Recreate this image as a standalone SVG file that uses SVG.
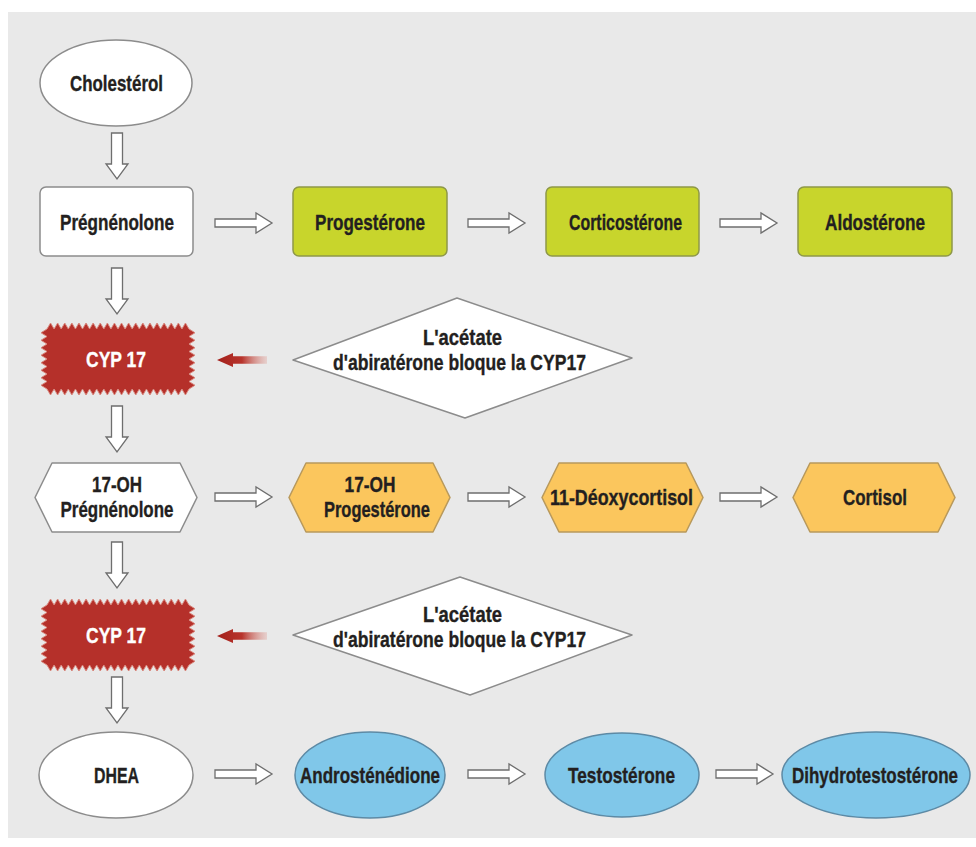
<svg xmlns="http://www.w3.org/2000/svg" width="976" height="847" viewBox="0 0 976 847">
<defs>
<style>
.t{font-family:"Liberation Sans",Arial,sans-serif;font-weight:bold;font-size:22px;fill:#231f20;stroke:#231f20;stroke-width:0.35;text-anchor:middle}
.tw{fill:#ffffff;stroke:#ffffff}
.white{fill:#ffffff;stroke:#8c8c8c;stroke-width:1.5}
.green{fill:#c8d52c;stroke:#8e9848;stroke-width:1.5}
.orange{fill:#fbc65d;stroke:#b8995c;stroke-width:1.5;stroke-linejoin:round}
.blue{fill:#80c7e9;stroke:#5d8aa5;stroke-width:1.5}
.arr{fill:#ffffff;stroke:#6e6e6e;stroke-width:1.3}
.red{fill:url(#rg)}
.burst{fill:#b5302a;stroke:#d9887e;stroke-width:1}
.dia{fill:#ffffff;stroke:#8c8c8c;stroke-width:1.5;stroke-linejoin:round}
</style>
<linearGradient id="rg" x1="0" y1="0" x2="1" y2="0">
<stop offset="0" stop-color="#a3201b"/>
<stop offset="0.5" stop-color="#b8342c"/>
<stop offset="1" stop-color="#e0a098" stop-opacity="0.35"/>
</linearGradient>
<path id="ha" d="M0,-4 H41 V-10 L57,0 L41,10 V4 H0 Z"/>
<path id="va" d="M-5.5,0 V31 H-11 L0,46 L11,31 H5.5 V0 Z"/>
<path id="ra" d="M0,0 L16,-7 V-3.8 H50 V3.8 H16 V7 Z"/>
<path id="bs" d="M-71,-30 l3.55,-6 3.55,6 3.55,-6 3.55,6 3.55,-6 3.55,6 3.55,-6 3.55,6 3.55,-6 3.55,6 3.55,-6 3.55,6 3.55,-6 3.55,6 3.55,-6 3.55,6 3.55,-6 3.55,6 3.55,-6 3.55,6 3.55,-6 3.55,6 3.55,-6 3.55,6 3.55,-6 3.55,6 3.55,-6 3.55,6 3.55,-6 3.55,6 3.55,-6 3.55,6 3.55,-6 3.55,6 3.55,-6 3.55,6 3.55,-6 3.55,6 3.55,-6 3.55,6 l6,3.75 -6,3.75 6,3.75 -6,3.75 6,3.75 -6,3.75 6,3.75 -6,3.75 6,3.75 -6,3.75 6,3.75 -6,3.75 6,3.75 -6,3.75 6,3.75 -6,3.75 l-3.55,6 -3.55,-6 -3.55,6 -3.55,-6 -3.55,6 -3.55,-6 -3.55,6 -3.55,-6 -3.55,6 -3.55,-6 -3.55,6 -3.55,-6 -3.55,6 -3.55,-6 -3.55,6 -3.55,-6 -3.55,6 -3.55,-6 -3.55,6 -3.55,-6 -3.55,6 -3.55,-6 -3.55,6 -3.55,-6 -3.55,6 -3.55,-6 -3.55,6 -3.55,-6 -3.55,6 -3.55,-6 -3.55,6 -3.55,-6 -3.55,6 -3.55,-6 -3.55,6 -3.55,-6 -3.55,6 -3.55,-6 -3.55,6 -3.55,-6 l-6,-3.75 6,-3.75 -6,-3.75 6,-3.75 -6,-3.75 6,-3.75 -6,-3.75 6,-3.75 -6,-3.75 6,-3.75 -6,-3.75 6,-3.75 -6,-3.75 6,-3.75 -6,-3.75 6,-3.75 Z"/>
</defs>

<rect x="0" y="0" width="976" height="847" fill="#ffffff"/>
<rect x="8" y="12" width="968" height="826" fill="#e9e9e9"/>

<g id="connectors">
<use href="#va" class="arr" x="117" y="133"/>
<use href="#va" class="arr" x="117" y="268"/>
<use href="#va" class="arr" x="117" y="406"/>
<use href="#va" class="arr" x="117" y="542"/>
<use href="#va" class="arr" x="117" y="677"/>
<use href="#ha" class="arr" x="215" y="223"/>
<use href="#ha" class="arr" x="468" y="223"/>
<use href="#ha" class="arr" x="720" y="223"/>
<use href="#ha" class="arr" x="215" y="497"/>
<use href="#ha" class="arr" x="468" y="497"/>
<use href="#ha" class="arr" x="720" y="497"/>
<use href="#ha" class="arr" x="215" y="774"/>
<use href="#ha" class="arr" x="468" y="774"/>
<use href="#ha" class="arr" x="716" y="774"/>
<use href="#ra" class="red" x="217" y="360"/>
<use href="#ra" class="red" x="217" y="636"/>
</g>

<g id="cholesterol">
<ellipse cx="116" cy="83" rx="76" ry="43" class="white"/>
<text class="t" x="116.5" y="91" textLength="93" lengthAdjust="spacingAndGlyphs">Cholestérol</text>
</g>

<g id="pregnenolone">
<rect x="40" y="187" width="153" height="69" rx="6" class="white"/>
<text class="t" x="117" y="230" textLength="114" lengthAdjust="spacingAndGlyphs">Prégnénolone</text>
</g>

<g id="progesterone">
<rect x="293" y="187" width="154" height="69" rx="6" class="green"/>
<text class="t" x="370" y="230" textLength="110" lengthAdjust="spacingAndGlyphs">Progestérone</text>
</g>

<g id="corticosterone">
<rect x="546" y="187" width="153" height="69" rx="6" class="green"/>
<text class="t" x="625.5" y="230" textLength="113" lengthAdjust="spacingAndGlyphs">Corticostérone</text>
</g>

<g id="aldosterone">
<rect x="798" y="187" width="154" height="69" rx="6" class="green"/>
<text class="t" x="875" y="230" textLength="100" lengthAdjust="spacingAndGlyphs">Aldostérone</text>
</g>

<g id="cyp17-1">
<use href="#bs" class="burst" x="118" y="359"/>
<text class="t tw" x="116" y="367" textLength="60" lengthAdjust="spacingAndGlyphs">CYP 17</text>
</g>

<g id="abiraterone-1">
<path d="M293,360 L457,298 L632,358 L465,418 Z" class="dia"/>
<text class="t" x="462.5" y="345" textLength="79" lengthAdjust="spacingAndGlyphs">L'acétate</text>
<text class="t" x="459.5" y="370" textLength="253" lengthAdjust="spacingAndGlyphs">d'abiratérone bloque la CYP17</text>
</g>

<g id="oh17-pregnenolone">
<path d="M52,463 H180 L197,497.5 L180,532 H52 L35,497.5 Z" class="white" stroke-linejoin="round"/>
<text class="t" x="117" y="492" textLength="50" lengthAdjust="spacingAndGlyphs">17-OH</text>
<text class="t" x="117" y="517" textLength="113" lengthAdjust="spacingAndGlyphs">Prégnénolone</text>
</g>

<g id="oh17-progesterone">
<path d="M306,463 H433 L450,497.5 L433,532 H306 L289,497.5 Z" class="orange"/>
<text class="t" x="370" y="492" textLength="51" lengthAdjust="spacingAndGlyphs">17-OH</text>
<text class="t" x="377" y="517" textLength="106" lengthAdjust="spacingAndGlyphs">Progestérone</text>
</g>

<g id="deoxycortisol">
<path d="M559,463 H686 L703,497.5 L686,532 H559 L542,497.5 Z" class="orange"/>
<text class="t" x="621.5" y="505" textLength="143" lengthAdjust="spacingAndGlyphs">11-Déoxycortisol</text>
</g>

<g id="cortisol">
<path d="M810,463 H938 L955,497.5 L938,532 H810 L793,497.5 Z" class="orange"/>
<text class="t" x="875" y="505" textLength="64" lengthAdjust="spacingAndGlyphs">Cortisol</text>
</g>

<g id="cyp17-2">
<use href="#bs" class="burst" x="118" y="635"/>
<text class="t tw" x="116" y="643" textLength="60" lengthAdjust="spacingAndGlyphs">CYP 17</text>
</g>

<g id="abiraterone-2">
<path d="M293,635 L460,577 L632,635 L470,695 Z" class="dia"/>
<text class="t" x="462.5" y="622" textLength="79" lengthAdjust="spacingAndGlyphs">L'acétate</text>
<text class="t" x="459.5" y="647" textLength="253" lengthAdjust="spacingAndGlyphs">d'abiratérone bloque la CYP17</text>
</g>

<g id="dhea">
<ellipse cx="116" cy="775" rx="77" ry="43" class="white"/>
<text class="t" x="116.5" y="783" textLength="45" lengthAdjust="spacingAndGlyphs">DHEA</text>
</g>

<g id="androstenedione">
<ellipse cx="370" cy="775" rx="75" ry="43" class="blue"/>
<text class="t" x="370" y="783" textLength="140" lengthAdjust="spacingAndGlyphs">Androsténédione</text>
</g>

<g id="testosterone">
<ellipse cx="622" cy="775" rx="77" ry="42" class="blue"/>
<text class="t" x="621.5" y="783" textLength="107" lengthAdjust="spacingAndGlyphs">Testostérone</text>
</g>

<g id="dihydrotestosterone">
<ellipse cx="876" cy="775" rx="94" ry="43" class="blue"/>
<text class="t" x="875" y="783" textLength="166" lengthAdjust="spacingAndGlyphs">Dihydrotestostérone</text>
</g>
</svg>
